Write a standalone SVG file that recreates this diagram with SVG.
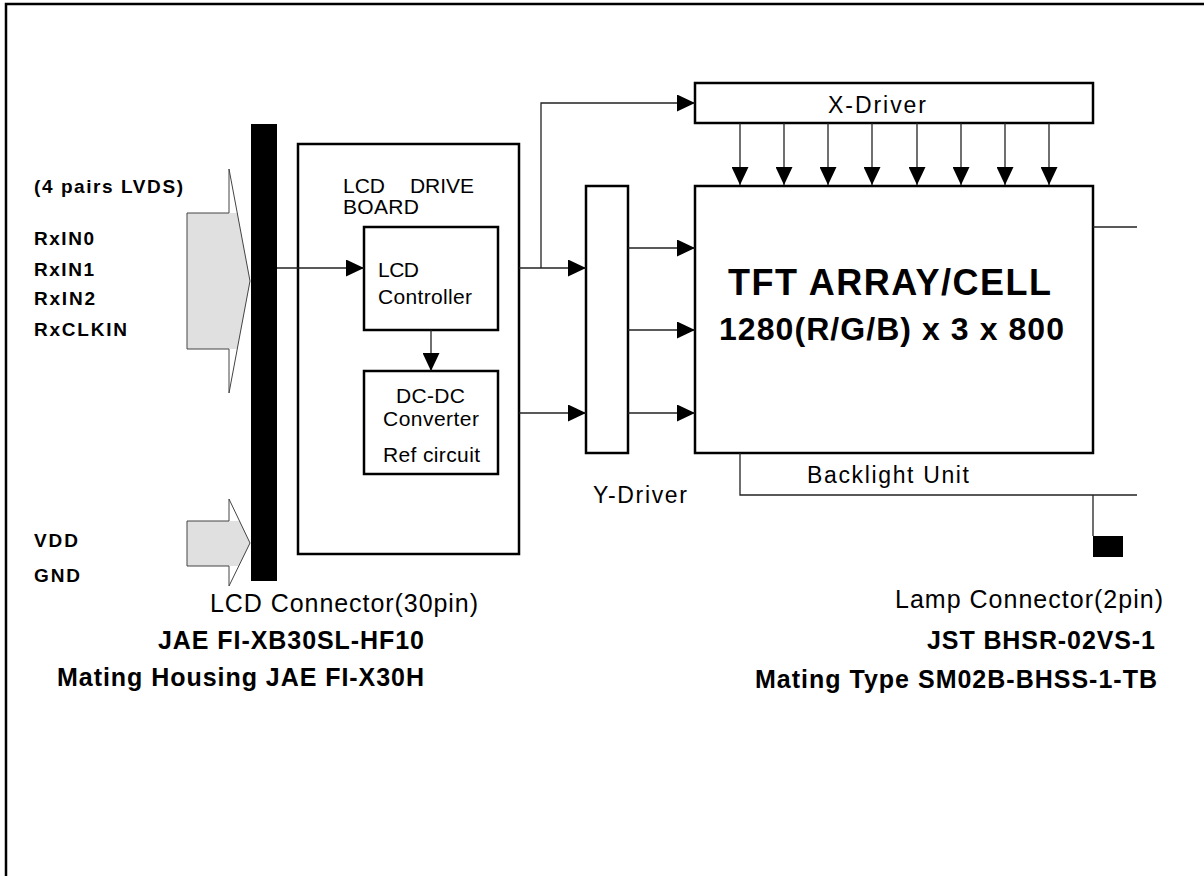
<svg xmlns="http://www.w3.org/2000/svg" width="1204" height="876" viewBox="0 0 1204 876">
<style>
text{font-family:"Liberation Sans",Arial,sans-serif;fill:#000}
.b{font-weight:bold}
.s19{font-size:19px;font-weight:bold}
.r21{font-size:21px}
.r23{font-size:23px}
.r25{font-size:25px}
.b25{font-size:25px;font-weight:bold}
.box{fill:#fff;stroke:#000;stroke-width:2.5}
.ln{fill:none;stroke:#222;stroke-width:1.3}
.arr{marker-end:url(#ah)}
.gray{fill:#e0e0e0;stroke:none}
.outl{fill:none;stroke:#444;stroke-width:1}
</style>
<defs>
<marker id="ah" markerUnits="userSpaceOnUse" markerWidth="18" markerHeight="17" refX="18" refY="8.5" orient="auto">
<path d="M0,0 L18,8.5 L0,17 z" fill="#000"/>
</marker>
</defs>
<rect width="1204" height="876" fill="#fff"/>
<path d="M6,876 V4 H1204" fill="none" stroke="#000" stroke-width="2.5"/>

<g id="input-lvds">
<polygon class="gray" points="187,213 237.3,213 250,281 237.3,349 187,349"/>
<polygon class="outl" points="187,213 229,213 229,169 250,281 229,393 229,349 187,349"/>
<text class="s19" x="34" y="193" textLength="149" lengthAdjust="spacing">(4 pairs LVDS)</text>
<text class="s19" x="34" y="245" textLength="60" lengthAdjust="spacing">RxIN0</text>
<text class="s19" x="34" y="276" textLength="60" lengthAdjust="spacing">RxIN1</text>
<text class="s19" x="34" y="305" textLength="61" lengthAdjust="spacing">RxIN2</text>
<text class="s19" x="34" y="336" textLength="93" lengthAdjust="spacing">RxCLKIN</text>
</g>

<g id="input-power">
<polygon class="gray" points="187,521 239.5,521 250,543 238.8,566 187,566"/>
<polygon class="outl" points="187,521 229,521 229,499 250,543 229,586 229,566 187,566"/>
<text class="s19" x="34" y="547" textLength="44" lengthAdjust="spacing">VDD</text>
<text class="s19" x="34" y="582" textLength="46" lengthAdjust="spacing">GND</text>
</g>

<g id="lcd-connector">
<rect x="251" y="124" width="26" height="457" fill="#000"/>
<text class="r25" x="210" y="612" textLength="268" lengthAdjust="spacing">LCD Connector(30pin)</text>
<text class="b25" x="158" y="649" textLength="266" lengthAdjust="spacing">JAE FI-XB30SL-HF10</text>
<text class="b25" x="57" y="686" textLength="367" lengthAdjust="spacing">Mating Housing JAE FI-X30H</text>
</g>

<g id="lcd-drive-board">
<rect class="box" x="298" y="144" width="221" height="410"/>
<text class="r21" x="343" y="193"><tspan textLength="42" lengthAdjust="spacing">LCD</tspan> <tspan x="410" textLength="64" lengthAdjust="spacing">DRIVE</tspan></text>
<text class="r21" x="343" y="214" textLength="76" lengthAdjust="spacing">BOARD</text>
</g>

<g id="lcd-controller">
<rect class="box" x="364" y="227" width="134" height="103"/>
<text class="r21" x="378" y="277" textLength="41" lengthAdjust="spacing">LCD</text>
<text class="r21" x="378" y="304" textLength="94" lengthAdjust="spacing">Controller</text>
</g>

<g id="dc-dc-converter">
<rect class="box" x="364" y="371" width="134" height="103"/>
<text class="r21" x="396" y="403" textLength="69" lengthAdjust="spacing">DC-DC</text>
<text class="r21" x="383" y="426" textLength="96" lengthAdjust="spacing">Converter</text>
<text class="r21" x="383" y="462" textLength="97" lengthAdjust="spacing">Ref circuit</text>
</g>

<g id="x-driver">
<rect class="box" x="695" y="83" width="398" height="40"/>
<text class="r23" x="828" y="113" textLength="98" lengthAdjust="spacing">X-Driver</text>
</g>

<g id="y-driver">
<rect class="box" x="586" y="186" width="42" height="267"/>
<text class="r23" x="593" y="503" textLength="94" lengthAdjust="spacing">Y-Driver</text>
</g>

<g id="tft-array">
<rect class="box" x="695" y="186" width="398" height="267"/>
<text class="b" style="font-size:36px" x="728" y="295" textLength="323" lengthAdjust="spacing">TFT ARRAY/CELL</text>
<text class="b" style="font-size:32px" x="719" y="340" textLength="345" lengthAdjust="spacing">1280(R/G/B) x 3 x 800</text>
</g>

<g id="backlight-unit">
<text class="r23" x="807" y="483" textLength="162" lengthAdjust="spacing">Backlight Unit</text>
</g>

<g id="lamp-connector">
<rect x="1093" y="536" width="30" height="21" fill="#000"/>
<text class="r25" x="895" y="608" textLength="268" lengthAdjust="spacing">Lamp Connector(2pin)</text>
<text class="b25" x="927" y="649" textLength="228" lengthAdjust="spacing">JST BHSR-02VS-1</text>
<text class="b25" x="755" y="688" textLength="402" lengthAdjust="spacing">Mating Type SM02B-BHSS-1-TB</text>
</g>

<g id="connectors">
<line class="ln arr" x1="277" y1="268" x2="364" y2="268"/>
<line class="ln arr" x1="519" y1="268" x2="586" y2="268"/>
<polyline class="ln arr" points="541,268 541,103 695,103"/>
<line class="ln arr" x1="519" y1="413" x2="586" y2="413"/>
<line class="ln arr" x1="431" y1="330" x2="431" y2="371"/>
<line class="ln arr" x1="628" y1="248" x2="695" y2="248"/>
<line class="ln arr" x1="628" y1="330" x2="695" y2="330"/>
<line class="ln arr" x1="628" y1="413" x2="695" y2="413"/>
<line class="ln arr" x1="740" y1="123" x2="740" y2="185"/>
<line class="ln arr" x1="784" y1="123" x2="784" y2="185"/>
<line class="ln arr" x1="828" y1="123" x2="828" y2="185"/>
<line class="ln arr" x1="872" y1="123" x2="872" y2="185"/>
<line class="ln arr" x1="917" y1="123" x2="917" y2="185"/>
<line class="ln arr" x1="961" y1="123" x2="961" y2="185"/>
<line class="ln arr" x1="1005" y1="123" x2="1005" y2="185"/>
<line class="ln arr" x1="1049" y1="123" x2="1049" y2="185"/>
<line class="ln" x1="1093" y1="227" x2="1137" y2="227"/>
<polyline class="ln" points="740,453 740,495 1137,495"/>
<line class="ln" x1="1093" y1="495" x2="1093" y2="536"/>
</g>
</svg>
